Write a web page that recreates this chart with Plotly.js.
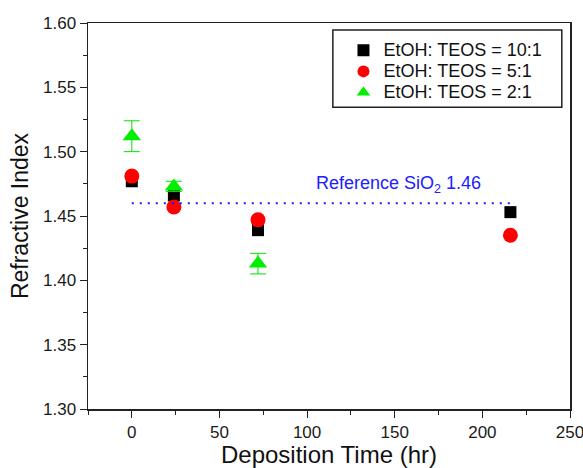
<!DOCTYPE html>
<html>
<head>
<meta charset="utf-8">
<script src="https://cdn.plot.ly/plotly-3.0.1.min.js"></script>
<style>html,body{margin:0;padding:0;background:#fff;}#chart{width:583px;height:468px;}</style>
</head>
<body>
<div id="chart"></div>
<script>
const time = [0, 24, 72, 216];
const ratio10 = [1.477, 1.466, 1.439, 1.453];
const ratio10Err = [0.004, 0.003, 0.003, 0.003];
const ratio5 = [1.481, 1.457, 1.447, 1.435];
const ratio5Err = [0.003, 0.002, 0.002, 0.002];
const time2 = [0, 24, 72];
const ratio2 = [1.512, 1.473, 1.413];
const ratio2Err = [0.012, 0.004, 0.008];
const seriesNames = ['EtOH: TEOS = 10:1', 'EtOH: TEOS = 5:1', 'EtOH: TEOS = 2:1'];
const refX = [0, 216];
const refY = 1.46;
const refLabel = 'Reference SiO<sub>2</sub> 1.46';
const xTicks = [0, 50, 100, 150, 200, 250];
const yTicks = [1.30, 1.35, 1.40, 1.45, 1.50, 1.55, 1.60];

const font = 'Liberation Sans, Arial, sans-serif';
const legendName = s => '<span style="font-size:18px">' + s + '</span>';
const traces = [
  {x: time, y: ratio10, name: legendName(seriesNames[0]), mode: 'markers', type: 'scatter',
   marker: {symbol: 'square', size: 12, color: '#000000'},
   error_y: {type: 'data', array: ratio10Err, color: '#444', thickness: 1, width: 5}},
  {x: time, y: ratio5, name: legendName(seriesNames[1]), mode: 'markers', type: 'scatter',
   marker: {symbol: 'circle', size: 15, color: '#ff0000'},
   error_y: {type: 'data', array: ratio5Err, color: '#333', thickness: 1, width: 5}},
  {x: time2, y: ratio2, name: legendName(seriesNames[2]), mode: 'markers', type: 'scatter',
   marker: {symbol: 'triangle-up', size: 16, color: '#00ee00'},
   error_y: {type: 'data', array: ratio2Err, color: '#00e000', thickness: 1, width: 8}},
  {x: refX, y: [refY, refY], mode: 'lines', type: 'scatter', showlegend: false, hoverinfo: 'skip',
   line: {color: '#2020ff', width: 2, dash: '2px,6px'}}
];

const layout = {
  width: 583, height: 468,
  margin: {l: 88, r: 13, t: 23, b: 59},
  paper_bgcolor: '#ffffff', plot_bgcolor: '#ffffff',
  font: {family: font, color: '#111'},
  showlegend: true,
  legend: {x: 0.53, y: 0.970, xanchor: 'left', yanchor: 'top', itemsizing: 'constant',
    font: {family: font, size: 14, color: '#111'}, bgcolor: 'rgba(0,0,0,0)',
    borderwidth: 0, tracegroupgap: 0},
  xaxis: {range: [-25, 250], tickvals: xTicks, ticks: 'outside', ticklen: 7, tickwidth: 1,
    tickcolor: '#222', showline: true, linecolor: '#222', linewidth: 1.5, mirror: true,
    showgrid: false, zeroline: false, tickfont: {size: 17, color: '#1a1a1a'}, ticklabeloverflow: 'allow',
    minor: {dtick: 25, ticks: 'outside', ticklen: 4, tickcolor: '#222', showgrid: false},
    title: {text: 'Deposition Time (hr)', font: {size: 24, color: '#111'}, standoff: 6}},
  yaxis: {range: [1.30, 1.60], tickvals: yTicks, tickformat: '.2f', ticks: 'outside', ticklen: 7, tickwidth: 1,
    tickcolor: '#222', showline: true, linecolor: '#222', linewidth: 1.5, mirror: true,
    showgrid: false, zeroline: false, tickfont: {size: 17, color: '#1a1a1a'},
    minor: {dtick: 0.025, ticks: 'outside', ticklen: 4, tickcolor: '#222', showgrid: false},
    title: {text: 'Refractive Index', font: {size: 23, color: '#111'}, standoff: 8}},
  shapes: [
    {type: 'rect', xref: 'paper', yref: 'paper', x0: 0.508, x1: 0.983, y0: 0.782, y1: 0.982,
     line: {color: '#222', width: 1.5}}
  ],
  annotations: [
    {x: 152, y: 1.4745, xref: 'x', yref: 'y', text: refLabel, showarrow: false,
     font: {family: font, size: 18, color: '#2020ff'}}
  ]
};

Plotly.newPlot('chart', traces, layout, {displayModeBar: false, staticPlot: true});
</script>
</body>
</html>
